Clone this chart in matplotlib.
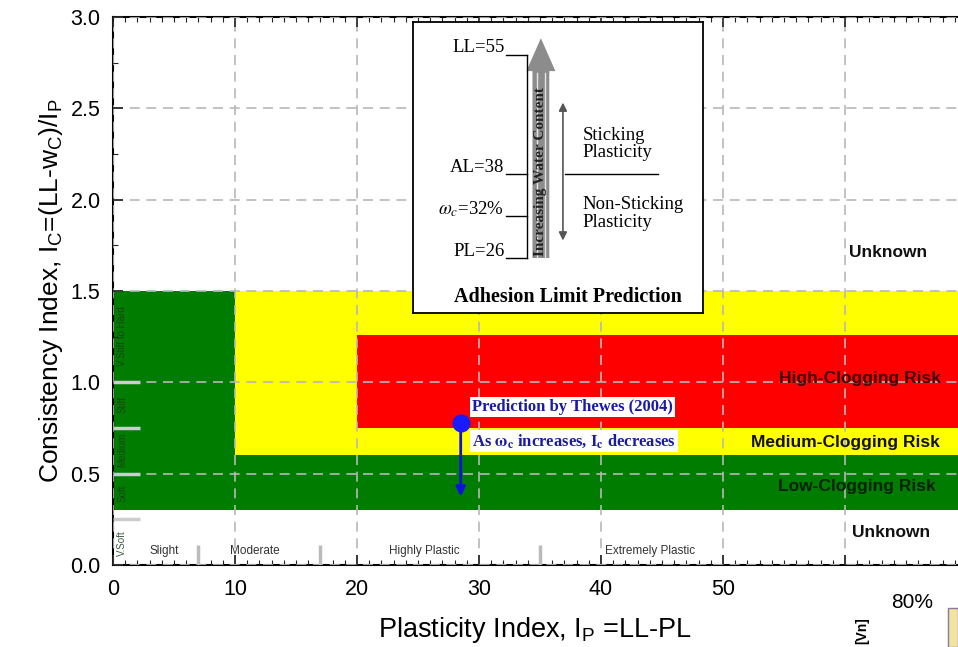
import numpy as np
import matplotlib
matplotlib.use('agg')
import matplotlib.pyplot as plt
from matplotlib.patches import Rectangle, FancyArrow

plt.rcParams['font.family'] = ['Liberation Sans', 'DejaVu Sans']
plt.rcParams['mathtext.fontset'] = 'custom'
plt.rcParams['mathtext.rm'] = 'Liberation Sans'

# clogging zones (Ip range, Ic range)
zone_x0 = [0, 10, 20, 10]
zone_x1 = [10, 80, 80, 80]
zone_y0 = [0.30, 0.60, 0.75, 0.30]
zone_y1 = [1.50, 1.50, 1.26, 0.60]
zone_col = ['#007c00', '#ffff00', '#ff0000', '#007c00']

# consistency classes along left edge
cons_names = ['V.Soft', 'Soft', 'Medium', 'Stiff', 'V.Stiff to Hard']
cons_mid = [0.12, 0.39, 0.63, 0.88, 1.25]
cons_bounds = [0.25, 0.50, 0.75, 1.00]

# plasticity classes along bottom
plast_names = ['Slight', 'Moderate', 'Highly Plastic', 'Extremely Plastic']
plast_mid = [4.2, 11.6, 25.5, 44.0]
plast_bounds = [7, 17, 35]

# zone labels
risk_text = ['Unknown', 'High-Clogging Risk', 'Medium-Clogging Risk', 'Low-Clogging Risk', 'Unknown']
risk_x = [63.5, 61.2, 60.0, 61.0, 63.8]
risk_y = [1.71, 1.02, 0.67, 0.43, 0.18]
risk_col = ['#111111', '#3a0000', '#111111', '#002200', '#111111']

# Thewes prediction
pred_ip = 28.5
pred_ic = 0.78
pred_ic_end = 0.36

# adhesion limit inset (water content %)
wc_names = ['LL=55', 'AL=38', r'$\omega_c$=32%', 'PL=26']
wc_vals = [55, 38, 32, 26]

fig = plt.figure(figsize=(9.58, 6.47), dpi=100)
ax = fig.add_axes([113/958, 1-565/647, 845/958, 548/647])
ax.set_xlim(0, 845/12.2)
ax.set_ylim(0, 3.0)

for x0, x1, y0, y1, c in zip(zone_x0, zone_x1, zone_y0, zone_y1, zone_col):
    ax.add_patch(Rectangle((x0, y0), x1-x0, y1-y0, facecolor=c, edgecolor='none', zorder=1))

ax.set_xticks([0, 10, 20, 30, 40, 50, 60])
ax.set_xticklabels(['0', '10', '20', '30', '40', '50', ''])
ax.set_xticks(np.arange(0, 70, 1), minor=True)
ax.set_yticks(np.arange(0, 3.01, 0.5))
ax.set_yticklabels(['%.1f' % v for v in np.arange(0, 3.01, 0.5)])
ax.set_yticks(np.arange(0, 3.01, 0.25), minor=True)
ax.tick_params(which='both', direction='in', top=True, labelsize=15.5, color='#222222')
ax.tick_params(which='major', length=7, width=1.2)
ax.tick_params(which='minor', length=3.5, width=0.8)
ax.tick_params(axis='x', pad=10)
ax.tick_params(axis='y', pad=9)
ax.spines['right'].set_visible(False)
for s in ['left', 'bottom', 'top']:
    ax.spines[s].set_linewidth(1.5)
ax.grid(True, which='major', color='#b8b8b8', linestyle=(0, (6, 4)), linewidth=1.2, zorder=2)
ax.set_axisbelow(False)

ax.set_xlabel(r'Plasticity Index, I$_\mathrm{P}$ =LL-PL', fontsize=19.5, labelpad=11)
ax.set_ylabel(r'Consistency Index, I$_\mathrm{C}$=(LL-w$_\mathrm{C}$)/I$_\mathrm{P}$', fontsize=19, labelpad=4)

# class markers
for b in cons_bounds:
    ax.plot([0, 2.2], [b, b], color='#cccccc', lw=2.5, zorder=3, solid_capstyle='butt')
for name, m in zip(cons_names, cons_mid):
    ax.text(0.75, m, name, rotation=90, ha='center', va='center', fontsize=7, color='#1d3a1d', alpha=0.85, zorder=4)
for b in plast_bounds:
    ax.plot([b, b], [0, 0.11], color='#bbbbbb', lw=2.5, zorder=3, solid_capstyle='butt')
for name, m in zip(plast_names, plast_mid):
    ax.text(m, 0.075, name, ha='center', va='center', fontsize=8.5, color='#333333', zorder=4)

for t, x, y, c in zip(risk_text, risk_x, risk_y, risk_col):
    ax.text(x, y, t, ha='center', va='center', fontsize=12.5, fontweight='bold', color=c, zorder=4)

# prediction marker and arrow
ax.annotate('', xy=(pred_ip, pred_ic_end), xytext=(pred_ip, pred_ic),
            arrowprops=dict(arrowstyle='-|>', color='#1010e0', lw=2, mutation_scale=14), zorder=5)
ax.plot([pred_ip], [pred_ic], 'o', color='#1a1aff', markersize=12, zorder=6)
box = dict(facecolor='white', edgecolor='none', pad=1.5)
ax.text(29.4, 0.865, 'Prediction by Thewes (2004)', ha='left', va='center', fontsize=12,
        fontweight='bold', color='#1a1aa8', family='Liberation Serif', bbox=box, zorder=6)
ax.text(29.4, 0.68, r'As $\mathbf{\omega_c}$ increases, I$_\mathbf{c}$ decreases', ha='left', va='center',
        fontsize=12, fontweight='bold', color='#1a1aa8', family='Liberation Serif',
        math_fontfamily='stix', bbox=box, zorder=6)

# inset
ins = fig.add_axes([413/958, 1-313/647, 290/958, 291/647])
ins.set_xlim(0, 1)
ins.set_ylim(55-(313-55)/7, 55+(55-22)/7)
ins.set_xticks([])
ins.set_yticks([])
for s in ins.spines.values():
    s.set_linewidth(1.3)
serif = 'Liberation Serif'
for name, v in zip(wc_names, wc_vals):
    ins.text(0.315, v+1.0, name, ha='right', va='center', fontsize=13.5, family=serif, math_fontfamily='stix')
    ins.plot([0.32, 0.393], [v, v], color='black', lw=1)
ins.plot([0.393, 0.393], [wc_vals[-1], wc_vals[0]], color='black', lw=1)
ins.add_patch(FancyArrow(0.441, wc_vals[-1], 0, 57.4-wc_vals[-1], width=0.058, head_width=0.1,
                         head_length=4.7, length_includes_head=True, facecolor='#8c8c8c', edgecolor='none'))
for dx in [-0.014, 0.014]:
    ins.plot([0.441+dx, 0.441+dx], [wc_vals[-1], 52.5], color='#e6e6e6', lw=1)
ins.text(0.441, 38.3, 'Increasing Water Content', rotation=90, ha='center', va='center',
         fontsize=11, fontweight='bold', family=serif, color='#222222')
ins.annotate('', xy=(0.517, 48.6), xytext=(0.517, 28.1),
             arrowprops=dict(arrowstyle='<|-|>', color='#555555', lw=1.2, mutation_scale=12))
ins.plot([0.524, 0.845], [38, 38], color='black', lw=1)
ins.text(0.586, 42.3, 'Sticking\nPlasticity', ha='left', va='center', fontsize=13.5, family=serif, linespacing=1.05)
ins.text(0.586, 32.4, 'Non-Sticking\nPlasticity', ha='left', va='center', fontsize=13.5, family=serif, linespacing=1.05)
ins.text(0.534, 20.4, 'Adhesion Limit Prediction', ha='center', va='center', fontsize=14.5,
         fontweight='bold', family=serif)

# fragment of neighbouring figure
fig.text(912/958, 1-602/647, '80%', ha='center', va='center', fontsize=15)
fig.text(862/958, 1-617/647, '[Vn]', rotation=90, ha='center', va='top', fontsize=10, fontweight='bold')
fig.add_artist(Rectangle((948/958, 0), 10/958, 39/647, transform=fig.transFigure,
                         facecolor='#f3e3a0', edgecolor='#8a7a9a', lw=1))

fig.savefig('out.png', dpi=100)
